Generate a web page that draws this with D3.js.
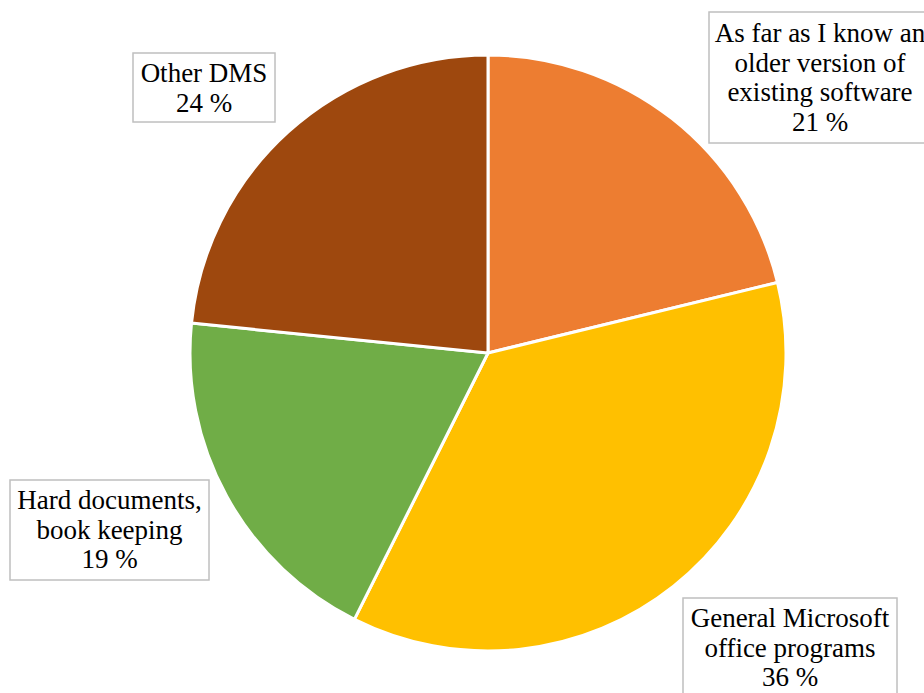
<!DOCTYPE html>
<html>
<head>
    <style>
        body { margin: 0; background: #fff; }
        .lbl { font-family: "Liberation Serif", "Times New Roman", serif; font-size: 27px; fill: #000; }
    </style>
</head>
<body>
    <div id="chart"></div>
    <script src="https://cdnjs.cloudflare.com/ajax/libs/d3/7.8.5/d3.min.js"></script>
    <script>
        // data
        const categories = [
            ["As far as I know an", "older version of", "existing software"],
            ["General Microsoft", "office programs"],
            ["Hard documents,", "book keeping"],
            ["Other DMS"]
        ];
        const values = [21.2, 36.2, 19.2, 23.4];
        const percentLabels = ["21 %", "36 %", "19 %", "24 %"];
        const colors = ["#ED7D31", "#FFC000", "#70AD47", "#9E480E"];

        // label box layout (x, y, w, h, first baseline)
        const boxes = [
            { x: 709, y: 12, w: 222, h: 131, base: 42 },
            { x: 683, y: 598, w: 214, h: 110, base: 627 },
            { x: 10, y: 480, w: 199, h: 100, base: 509 },
            { x: 133, y: 53, w: 142, h: 69, base: 82 }
        ];
        const lineH = 29.5;

        const width = 924, height = 693;
        const cx = 488, cy = 353, radius = 298;

        const svg = d3.select("#chart").append("svg")
            .attr("width", width)
            .attr("height", height);

        const pie = d3.pie().sort(null).value(d => d);
        const arc = d3.arc().innerRadius(0).outerRadius(radius);

        svg.append("g")
            .attr("transform", `translate(${cx},${cy})`)
            .selectAll("path")
            .data(pie(values))
            .join("path")
            .attr("d", arc)
            .attr("fill", (d, i) => colors[i])
            .attr("stroke", "#fff")
            .attr("stroke-width", 3)
            .attr("stroke-linejoin", "round");

        // labels
        const lg = svg.selectAll(".lab")
            .data(boxes)
            .join("g")
            .attr("class", "lab");

        lg.append("rect")
            .attr("x", d => d.x)
            .attr("y", d => d.y)
            .attr("width", d => d.w)
            .attr("height", d => d.h)
            .attr("fill", "#fff")
            .attr("stroke", "#BFBFBF")
            .attr("stroke-width", 1.5);

        lg.each(function (b, i) {
            const lines = categories[i].concat([percentLabels[i]]);
            d3.select(this).append("text")
                .attr("class", "lbl")
                .attr("text-anchor", "middle")
                .selectAll("tspan")
                .data(lines)
                .join("tspan")
                .attr("x", b.x + b.w / 2)
                .attr("y", (d, j) => b.base + j * lineH)
                .text(d => d);
        });
    </script>
</body>
</html>
